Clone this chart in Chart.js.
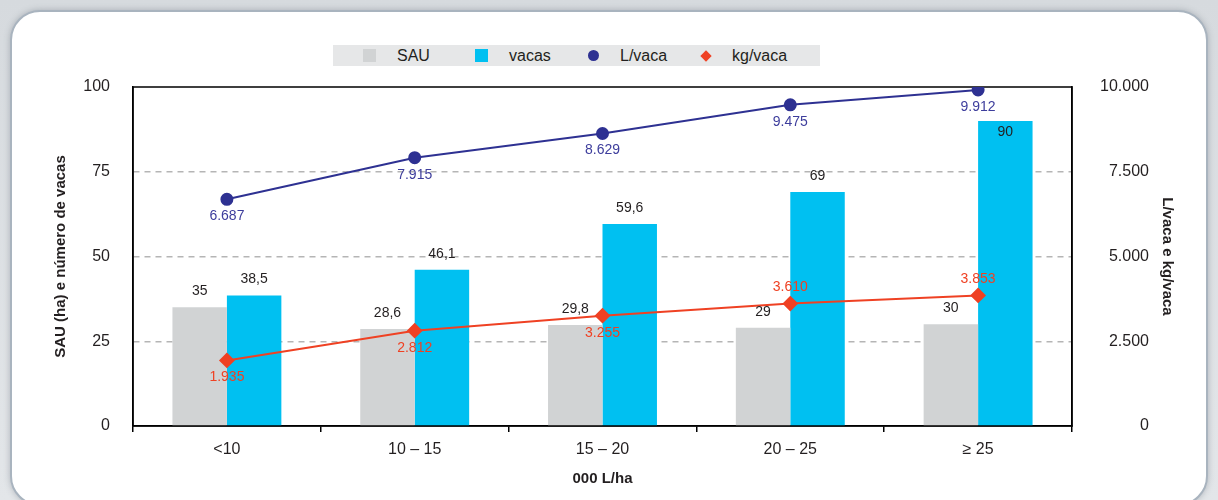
<!DOCTYPE html>
<html>
<head>
<meta charset="utf-8">
<script src="https://cdn.jsdelivr.net/npm/chart.js@4/dist/chart.umd.min.js"></script>
<style>
html, body { margin: 0; padding: 0; }
body {
    width: 1218px; height: 500px; overflow: hidden; position: relative;
    background: linear-gradient(#d6dade, #e3e6e9);
    font-family: "Liberation Sans", Arial, sans-serif;
}
#frame {
    position: absolute; left: 10px; top: 10px; width: 1194px; height: 492px;
    border: 2px solid #a9b4bf; border-radius: 30px; background: #fff;
    box-shadow: 0 0 6px rgba(110, 120, 130, 0.45);
}
#legend {
    position: absolute; left: 333px; top: 45px; width: 457px; height: 21px;
    padding-left: 30px; background: #e6e7e8; display: flex; align-items: center;
}
.item { width: 112px; display: flex; align-items: center; font-size: 16px; color: #231f20; }
.mark { width: 13px; height: 13px; margin-right: 21px; flex: none; }
#wrap { position: absolute; left: 0; top: 0; width: 1218px; height: 500px; }
</style>
</head>
<body>
<div id="frame"></div>
<div id="legend"></div>
<div id="wrap"><canvas id="chart"></canvas></div>
<script>
///////////////////////////////////////////////////////////////////////////
// DATA
///////////////////////////////////////////////////////////////////////////
var categories = ['<10', '10 – 15', '15 – 20', '20 – 25', '≥ 25'];
var sau = [35, 28.6, 29.8, 29, 30];
var vacas = [38.5, 46.1, 59.6, 69, 90];
var lVaca = [6687, 7915, 8629, 9475, 9912];
var kgVaca = [1935, 2812, 3255, 3610, 3853];
var leftTicks = [0, 25, 50, 75, 100];
var rightTicks = [0, 2500, 5000, 7500, 10000];

var FONT = '"Liberation Sans", Arial, sans-serif';
var INK = '#231f20';

function fmtBar(v) { return String(v).replace('.', ','); }
function fmtThousands(v) { return String(v).replace(/\B(?=(\d{3})+(?!\d))/g, '.'); }

///////////////////////////////////////////////////////////////////////////
// PLUGINS: plot frame + value labels
///////////////////////////////////////////////////////////////////////////
var plotFrame = {
    id: 'plotFrame',
    beforeDatasetsDraw: function(chart) {
        var a = chart.chartArea, ctx = chart.ctx;
        ctx.save();
        ctx.strokeStyle = '#000';
        ctx.lineWidth = 1.5;
        ctx.strokeRect(a.left, a.top, a.right - a.left, a.bottom - a.top);
        ctx.restore();
    }
};

var valueLabels = {
    id: 'valueLabels',
    afterDatasetsDraw: function(chart) {
        var ctx = chart.ctx, a = chart.chartArea;
        ctx.save();
        ctx.font = '14px ' + FONT;
        ctx.textAlign = 'center';
        ctx.textBaseline = 'middle';
        chart.data.datasets.forEach(function(ds, i) {
            var meta = chart.getDatasetMeta(i);
            meta.data.forEach(function(el, j) {
                var v = ds.data[j], y, text;
                if (ds.type === 'bar') {
                    y = el.y - 16;
                    if (y < a.top + 35) y = el.y + 11;   // no room above: put it inside
                    text = fmtBar(v);
                    ctx.fillStyle = INK;
                } else {
                    y = (ds.label === 'kg/vaca' && v > 3500) ? el.y - 16 : el.y + 17;
                    text = fmtThousands(v);
                    ctx.fillStyle = ds.labelColor;
                }
                ctx.fillText(text, el.x, y);
            });
        });
        ctx.restore();
    }
};

///////////////////////////////////////////////////////////////////////////
// CHART
///////////////////////////////////////////////////////////////////////////
var datasets = [
    { type: 'bar', label: 'SAU', data: sau, backgroundColor: '#d1d3d4', yAxisID: 'y', order: 2,
      categoryPercentage: 0.58, barPercentage: 1 },
    { type: 'bar', label: 'vacas', data: vacas, backgroundColor: '#00c0f1', yAxisID: 'y', order: 2,
      categoryPercentage: 0.58, barPercentage: 1 },
    { type: 'line', label: 'L/vaca', data: lVaca, borderColor: '#2e3192', backgroundColor: '#2e3192',
      labelColor: '#3d3d9c', borderWidth: 2, pointStyle: 'circle', pointRadius: 5.5, yAxisID: 'y1', order: 0 },
    { type: 'line', label: 'kg/vaca', data: kgVaca, borderColor: '#ef4123', backgroundColor: '#ef4123',
      labelColor: '#ef4123', borderWidth: 2, pointStyle: 'rectRot', pointRadius: 6.5, yAxisID: 'y1', order: 1 }
];

var ctx = document.getElementById('chart').getContext('2d');
var chart = new Chart(ctx, {
    type: 'bar',
    data: { labels: categories, datasets: datasets },
    plugins: [plotFrame, valueLabels],
    options: {
        responsive: true,
        maintainAspectRatio: false,
        animation: false,
        layout: { padding: { left: 48, right: 69, top: 87, bottom: 8 } },
        plugins: { legend: { display: false }, tooltip: { enabled: false } },
        scales: {
            x: {
                grid: { offset: true, drawOnChartArea: false, color: '#000', lineWidth: 1.5, tickLength: 6 },
                border: { color: '#000', width: 1.5 },
                ticks: { color: INK, font: { family: FONT, size: 16 }, padding: 8 },
                title: { display: true, text: '000 L/ha', color: INK, font: { family: FONT, size: 15, weight: 'bold' } },
                afterFit: function(s) { s.height = 66; }
            },
            y: {
                position: 'left', min: 0, max: 100,
                afterBuildTicks: function(s) { s.ticks = leftTicks.map(function(v) { return { value: v }; }); },
                grid: {
                    drawTicks: false, lineWidth: 1.5,
                    color: function(c) { return (c.tick && c.tick.value > 0 && c.tick.value < 100) ? '#b5b5b5' : 'rgba(0,0,0,0)'; }
                },
                border: { color: '#000', width: 1.5, dash: [6, 5] },
                ticks: { color: INK, font: { family: FONT, size: 16 }, padding: 23 },
                title: { display: true, text: 'SAU (ha) e número de vacas', color: INK, font: { family: FONT, size: 15, weight: 'bold' } },
                afterFit: function(s) { s.width = 85; }
            },
            y1: {
                position: 'right', min: 0, max: 10000,
                afterBuildTicks: function(s) { s.ticks = rightTicks.map(function(v) { return { value: v }; }); },
                grid: { drawOnChartArea: false, drawTicks: false },
                border: { color: '#000', width: 1.5 },
                ticks: { color: INK, font: { family: FONT, size: 16 }, crossAlign: 'far',
                         callback: function(v) { return fmtThousands(v); } },
                // labels are right-aligned to the scale edge; title pushed outward past it
                title: { display: true, text: 'L/vaca e kg/vaca', color: INK, padding: { top: -27, bottom: 0 },
                         font: { family: FONT, size: 15, weight: 'bold' } },
                afterFit: function(s) { s.width = 77; }
            }
        }
    }
});

///////////////////////////////////////////////////////////////////////////
// HTML LEGEND (built from the datasets)
///////////////////////////////////////////////////////////////////////////
var legend = document.getElementById('legend');
datasets.forEach(function(ds) {
    var item = document.createElement('div');
    item.className = 'item';
    var mark = document.createElement('span');
    mark.className = 'mark';
    if (ds.type === 'bar') {
        mark.style.background = ds.backgroundColor;
    } else if (ds.pointStyle === 'circle') {
        mark.style.cssText = 'width:11px;height:11px;border-radius:50%;margin-left:1px;margin-right:21px;background:' + ds.backgroundColor;
    } else {
        mark.style.cssText = 'width:8px;height:8px;transform:rotate(45deg);margin-left:3px;margin-right:22px;background:' + ds.backgroundColor;
    }
    item.appendChild(mark);
    var txt = document.createElement('span');
    txt.textContent = ds.label;
    item.appendChild(txt);
    legend.appendChild(item);
});
</script>
</body>
</html>
